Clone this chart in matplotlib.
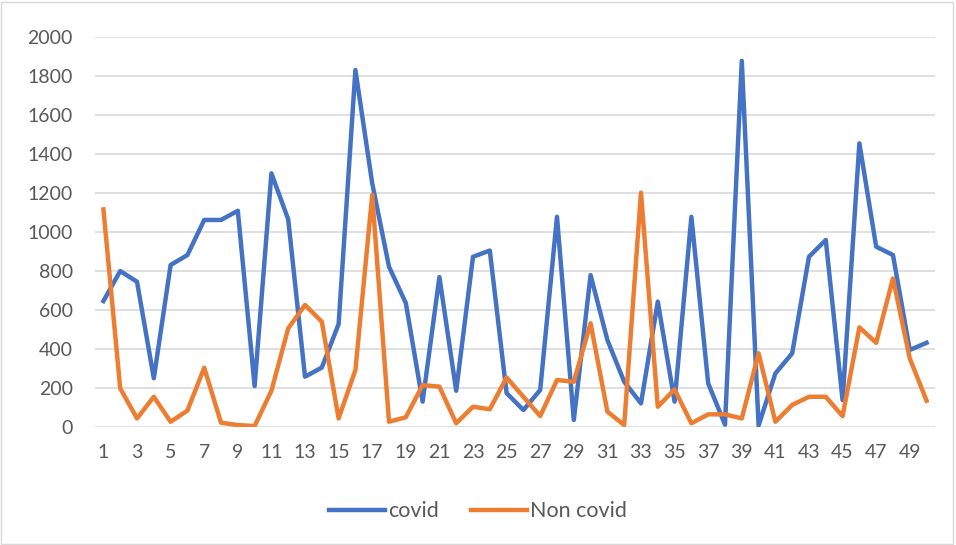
import numpy as np
import matplotlib
matplotlib.use("Agg")
import matplotlib.pyplot as plt
from matplotlib.patches import Rectangle

plt.rcParams['font.family'] = ['Lato', 'DejaVu Sans']

days = list(range(1, 51))

covid = [646, 800, 745, 250, 831, 882, 1062, 1062, 1109, 210,
         1301, 1065, 258, 305, 528, 1831, 1250, 822, 636, 130,
         769, 186, 873, 905, 174, 87, 190, 1078, 36, 779,
         446, 232, 121, 643, 130, 1078, 224, 12, 1878, 8,
         275, 378, 873, 959, 138, 1455, 925, 882, 395, 432]

non_covid = [1116, 198, 44, 155, 27, 84, 304, 22, 10, 5,
             186, 506, 626, 540, 44, 292, 1190, 27, 50, 215,
             207, 19, 104, 91, 254, 155, 56, 241, 232, 532,
             79, 10, 1202, 104, 193, 19, 65, 65, 44, 378,
             27, 113, 155, 155, 56, 511, 432, 762, 352, 135]

tick_labels = [str(d) for d in days[::2]]

fig = plt.figure(figsize=(9.56, 5.45), dpi=100)
ax = fig.add_axes([0.0994, 0.2165, 0.8786, 0.7155])

ax.plot(days, covid, color='#4472C4', lw=3.2, label='covid', solid_joinstyle='round')
ax.plot(days, non_covid, color='#ED7D31', lw=3.2, label='Non covid', solid_joinstyle='round')

ax.set_xlim(0.5, 50.5)
ax.set_ylim(0, 2000)
ax.set_yticks(range(0, 2001, 200))
ax.set_xticks(days[::2])
ax.set_xticklabels(tick_labels)
ax.grid(axis='y', color='#d9d9d9', lw=1.2)
ax.set_axisbelow(True)
for s in ax.spines.values():
    s.set_visible(False)
ax.tick_params(length=0, labelsize=14, colors='#595959')
ax.tick_params(axis='x', pad=12)
ax.tick_params(axis='y', pad=16)

leg = fig.legend(loc='center', bbox_to_anchor=(0.5, 0.062), ncol=2, frameon=False,
                 fontsize=15.5, handlelength=2.6, columnspacing=1.5, handletextpad=0.15)
for t in leg.get_texts():
    t.set_color('#595959')

fig.patches.append(Rectangle((0.001, 0.002), 0.996, 0.995, transform=fig.transFigure,
                             fill=False, edgecolor='#d9d9d9', lw=1))

fig.savefig('out.png', dpi=100)
